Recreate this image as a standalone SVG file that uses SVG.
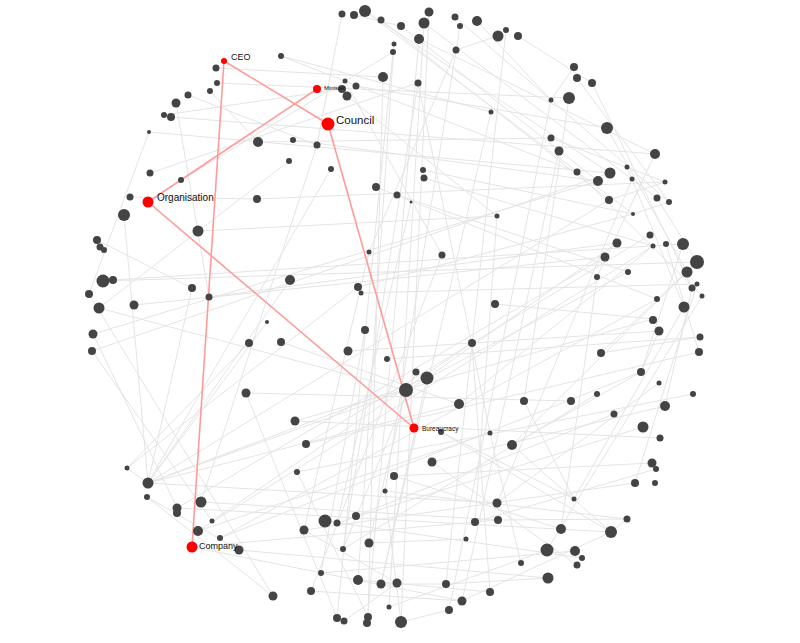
<svg xmlns="http://www.w3.org/2000/svg" width="800" height="643" viewBox="0 0 800 643">
<style>
.e line{stroke:#e4e4e4;stroke-width:1;fill:none}
.r line{stroke:#ff9a9a;stroke-width:1.6;fill:none}
.n circle{fill:#444}
.h circle{fill:#ff0000}
text{font-family:"Liberation Sans",Arial,sans-serif;fill:#111}
</style>
<rect width="800" height="643" fill="#fff"/>
<g id="connectors">
<g class="e">
<line x1="281" y1="56" x2="491" y2="112"/><line x1="281" y1="56" x2="577" y2="172"/><line x1="216" y1="68" x2="383" y2="77"/><line x1="217" y1="83" x2="569" y2="98"/><line x1="210" y1="91" x2="258" y2="142"/><line x1="188" y1="95" x2="317" y2="145"/><line x1="176" y1="103" x2="209" y2="297"/><line x1="164" y1="115" x2="342" y2="89"/><line x1="171" y1="117" x2="655" y2="154"/><line x1="149" y1="132" x2="610" y2="173"/><line x1="149" y1="132" x2="89" y2="294"/><line x1="258" y1="142" x2="551" y2="138"/><line x1="293" y1="140" x2="598" y2="181"/><line x1="289" y1="161" x2="99" y2="308"/><line x1="150" y1="173" x2="418" y2="83"/><line x1="181" y1="180" x2="393" y2="52"/><line x1="130" y1="197" x2="257" y2="199"/><line x1="257" y1="199" x2="665" y2="182"/><line x1="124" y1="215" x2="148" y2="483"/><line x1="198" y1="231" x2="497" y2="216"/><line x1="97" y1="240" x2="192" y2="288"/><line x1="103" y1="281" x2="697" y2="262"/><line x1="113" y1="280" x2="683" y2="244"/><line x1="290" y1="280" x2="148" y2="483"/><line x1="192" y1="288" x2="148" y2="483"/><line x1="89" y1="294" x2="273" y2="596"/><line x1="209" y1="297" x2="617" y2="243"/><line x1="99" y1="308" x2="406" y2="390"/><line x1="134" y1="305" x2="605" y2="257"/><line x1="342" y1="14" x2="317" y2="145"/><line x1="354" y1="15" x2="401" y2="26"/><line x1="365" y1="11" x2="633" y2="214"/><line x1="365" y1="11" x2="610" y2="173"/><line x1="381" y1="20" x2="609" y2="200"/><line x1="401" y1="26" x2="598" y2="181"/><line x1="424" y1="23" x2="657" y2="198"/><line x1="424" y1="23" x2="389" y2="607"/><line x1="429" y1="12" x2="401" y2="622"/><line x1="419" y1="39" x2="367" y2="623"/><line x1="455" y1="17" x2="669" y2="202"/><line x1="460" y1="26" x2="385" y2="491"/><line x1="477" y1="21" x2="551" y2="100"/><line x1="498" y1="36" x2="456" y2="50"/><line x1="456" y1="50" x2="369" y2="252"/><line x1="394" y1="44" x2="358" y2="580"/><line x1="393" y1="52" x2="337" y2="618"/><line x1="383" y1="77" x2="368" y2="617"/><line x1="418" y1="83" x2="343" y2="549"/><line x1="345" y1="81" x2="442" y2="255"/><line x1="356" y1="86" x2="607" y2="128"/><line x1="347" y1="96" x2="497" y2="216"/><line x1="491" y1="112" x2="381" y2="584"/><line x1="317" y1="145" x2="201" y2="502"/><line x1="331" y1="169" x2="148" y2="483"/><line x1="423" y1="170" x2="633" y2="214"/><line x1="424" y1="178" x2="653" y2="246"/><line x1="376" y1="187" x2="657" y2="299"/><line x1="397" y1="195" x2="628" y2="272"/><line x1="411" y1="202" x2="337" y2="523"/><line x1="497" y1="216" x2="475" y2="522"/><line x1="369" y1="252" x2="304" y2="530"/><line x1="442" y1="255" x2="311" y2="591"/><line x1="358" y1="287" x2="127" y2="468"/><line x1="361" y1="293" x2="697" y2="284"/><line x1="495" y1="304" x2="653" y2="319"/><line x1="506" y1="30" x2="446" y2="584"/><line x1="518" y1="36" x2="592" y2="83"/><line x1="574" y1="67" x2="551" y2="100"/><line x1="577" y1="78" x2="669" y2="202"/><line x1="592" y1="83" x2="692" y2="288"/><line x1="551" y1="100" x2="449" y2="610"/><line x1="569" y1="98" x2="524" y2="401"/><line x1="607" y1="128" x2="687" y2="272"/><line x1="551" y1="138" x2="665" y2="182"/><line x1="559" y1="151" x2="462" y2="601"/><line x1="655" y1="154" x2="597" y2="277"/><line x1="577" y1="172" x2="702" y2="296"/><line x1="627" y1="167" x2="684" y2="307"/><line x1="632" y1="179" x2="497" y2="503"/><line x1="610" y1="173" x2="92" y2="351"/><line x1="598" y1="181" x2="93" y2="334"/><line x1="665" y1="182" x2="609" y2="200"/><line x1="609" y1="200" x2="148" y2="483"/><line x1="657" y1="198" x2="697" y2="262"/><line x1="669" y1="202" x2="633" y2="214"/><line x1="633" y1="214" x2="358" y2="287"/><line x1="650" y1="235" x2="306" y2="444"/><line x1="653" y1="246" x2="198" y2="531"/><line x1="666" y1="244" x2="699" y2="352"/><line x1="683" y1="244" x2="641" y2="372"/><line x1="617" y1="243" x2="427" y2="378"/><line x1="605" y1="257" x2="177" y2="508"/><line x1="697" y1="262" x2="601" y2="353"/><line x1="687" y1="272" x2="512" y2="445"/><line x1="597" y1="277" x2="561" y2="529"/><line x1="628" y1="272" x2="406" y2="390"/><line x1="692" y1="288" x2="665" y2="406"/><line x1="697" y1="284" x2="635" y2="483"/><line x1="702" y1="296" x2="547" y2="550"/><line x1="657" y1="299" x2="220" y2="538"/><line x1="684" y1="307" x2="574" y2="499"/><line x1="653" y1="319" x2="295" y2="421"/><line x1="93" y1="334" x2="177" y2="508"/><line x1="92" y1="351" x2="212" y2="521"/><line x1="246" y1="393" x2="571" y2="401"/><line x1="281" y1="342" x2="459" y2="404"/><line x1="249" y1="343" x2="127" y2="468"/><line x1="267" y1="322" x2="148" y2="483"/><line x1="127" y1="468" x2="148" y2="483"/><line x1="148" y1="483" x2="459" y2="404"/><line x1="148" y1="483" x2="406" y2="390"/><line x1="148" y1="483" x2="497" y2="503"/><line x1="148" y1="483" x2="427" y2="378"/><line x1="147" y1="497" x2="239" y2="550"/><line x1="177" y1="508" x2="611" y2="532"/><line x1="201" y1="502" x2="498" y2="520"/><line x1="212" y1="521" x2="472" y2="343"/><line x1="198" y1="531" x2="490" y2="433"/><line x1="220" y1="538" x2="641" y2="372"/><line x1="239" y1="550" x2="548" y2="578"/><line x1="273" y1="596" x2="147" y2="497"/><line x1="365" y1="330" x2="321" y2="573"/><line x1="348" y1="351" x2="659" y2="331"/><line x1="387" y1="359" x2="700" y2="337"/><line x1="472" y1="343" x2="490" y2="592"/><line x1="416" y1="372" x2="343" y2="549"/><line x1="427" y1="378" x2="381" y2="584"/><line x1="406" y1="390" x2="369" y2="543"/><line x1="459" y1="404" x2="653" y2="246"/><line x1="441" y1="432" x2="611" y2="532"/><line x1="490" y1="433" x2="521" y2="563"/><line x1="295" y1="421" x2="660" y2="438"/><line x1="306" y1="444" x2="699" y2="352"/><line x1="432" y1="462" x2="577" y2="565"/><line x1="297" y1="472" x2="693" y2="394"/><line x1="394" y1="476" x2="652" y2="463"/><line x1="385" y1="491" x2="627" y2="519"/><line x1="497" y1="503" x2="659" y2="383"/><line x1="325" y1="521" x2="582" y2="558"/><line x1="337" y1="523" x2="643" y2="427"/><line x1="356" y1="516" x2="614" y2="414"/><line x1="304" y1="530" x2="397" y2="583"/><line x1="369" y1="543" x2="466" y2="539"/><line x1="343" y1="549" x2="597" y2="394"/><line x1="475" y1="522" x2="656" y2="469"/><line x1="498" y1="520" x2="627" y2="519"/><line x1="321" y1="573" x2="575" y2="551"/><line x1="358" y1="580" x2="490" y2="592"/><line x1="381" y1="584" x2="446" y2="584"/><line x1="397" y1="583" x2="344" y2="621"/><line x1="311" y1="591" x2="462" y2="601"/><line x1="462" y1="601" x2="611" y2="532"/><line x1="449" y1="610" x2="401" y2="622"/><line x1="389" y1="607" x2="547" y2="550"/><line x1="337" y1="618" x2="246" y2="393"/><line x1="368" y1="617" x2="297" y2="472"/><line x1="401" y1="622" x2="385" y2="491"/><line x1="659" y1="331" x2="641" y2="372"/><line x1="700" y1="337" x2="601" y2="353"/><line x1="641" y1="372" x2="512" y2="445"/><line x1="665" y1="406" x2="432" y2="462"/><line x1="524" y1="401" x2="574" y2="499"/><line x1="512" y1="445" x2="611" y2="532"/><line x1="635" y1="483" x2="304" y2="530"/><line x1="574" y1="499" x2="441" y2="432"/><line x1="611" y1="532" x2="627" y2="519"/><line x1="561" y1="529" x2="394" y2="476"/><line x1="548" y1="578" x2="446" y2="584"/><line x1="192" y1="547" x2="462" y2="601"/><line x1="192" y1="547" x2="498" y2="520"/><line x1="418" y1="83" x2="490" y2="433"/><line x1="419" y1="39" x2="655" y2="154"/>
</g>
<g class="r">
<line x1="224" y1="61" x2="328" y2="124"/>
<line x1="224" y1="61" x2="192" y2="547"/>
<line x1="317" y1="89" x2="148" y2="202"/>
<line x1="148" y1="202" x2="414" y2="428"/>
<line x1="328" y1="124" x2="414" y2="428"/>
</g>
</g>
<g id="nodes" class="n">
<g id="n1"><circle cx="281" cy="56" r="3"/></g>
<g id="n2"><circle cx="216" cy="68" r="3.5"/></g>
<g id="n3"><circle cx="217" cy="83" r="3"/></g>
<g id="n4"><circle cx="210" cy="91" r="3"/></g>
<g id="n5"><circle cx="188" cy="95" r="3.5"/></g>
<g id="n6"><circle cx="176" cy="103" r="4.5"/></g>
<g id="n7"><circle cx="164" cy="115" r="3"/></g>
<g id="n8"><circle cx="171" cy="117" r="4"/></g>
<g id="n9"><circle cx="149" cy="132" r="2"/></g>
<g id="n10"><circle cx="258" cy="142" r="5"/></g>
<g id="n11"><circle cx="293" cy="140" r="3"/></g>
<g id="n12"><circle cx="289" cy="161" r="3"/></g>
<g id="n13"><circle cx="150" cy="173" r="3.5"/></g>
<g id="n14"><circle cx="181" cy="180" r="3"/></g>
<g id="n15"><circle cx="130" cy="197" r="3.5"/></g>
<g id="n16"><circle cx="257" cy="199" r="4"/></g>
<g id="n17"><circle cx="124" cy="215" r="6"/></g>
<g id="n18"><circle cx="198" cy="231" r="5.5"/></g>
<g id="n19"><circle cx="97" cy="240" r="4"/></g>
<g id="n20"><circle cx="100" cy="247" r="3.5"/></g>
<g id="n21"><circle cx="104" cy="250" r="3"/></g>
<g id="n22"><circle cx="103" cy="281" r="6.5"/></g>
<g id="n23"><circle cx="113" cy="280" r="4"/></g>
<g id="n24"><circle cx="290" cy="280" r="5"/></g>
<g id="n25"><circle cx="192" cy="288" r="4"/></g>
<g id="n26"><circle cx="89" cy="294" r="4"/></g>
<g id="n27"><circle cx="209" cy="297" r="3.5"/></g>
<g id="n28"><circle cx="99" cy="308" r="5.5"/></g>
<g id="n29"><circle cx="134" cy="305" r="4.5"/></g>
<g id="n30"><circle cx="342" cy="14" r="3.5"/></g>
<g id="n31"><circle cx="354" cy="15" r="4"/></g>
<g id="n32"><circle cx="365" cy="11" r="6"/></g>
<g id="n33"><circle cx="381" cy="20" r="3.5"/></g>
<g id="n34"><circle cx="401" cy="26" r="4"/></g>
<g id="n35"><circle cx="424" cy="23" r="5.5"/></g>
<g id="n36"><circle cx="429" cy="12" r="4.5"/></g>
<g id="n37"><circle cx="455" cy="17" r="3.5"/></g>
<g id="n38"><circle cx="460" cy="26" r="3"/></g>
<g id="n39"><circle cx="477" cy="21" r="5"/></g>
<g id="n40"><circle cx="498" cy="36" r="5.5"/></g>
<g id="n41"><circle cx="394" cy="44" r="2.5"/></g>
<g id="n42"><circle cx="393" cy="52" r="3"/></g>
<g id="n43"><circle cx="419" cy="39" r="5"/></g>
<g id="n44"><circle cx="456" cy="50" r="3.5"/></g>
<g id="n45"><circle cx="383" cy="77" r="5"/></g>
<g id="n46"><circle cx="418" cy="83" r="3.5"/></g>
<g id="n47"><circle cx="345" cy="81" r="2.5"/></g>
<g id="n48"><circle cx="356" cy="86" r="3.5"/></g>
<g id="n49"><circle cx="342" cy="89" r="4"/></g>
<g id="n50"><circle cx="347" cy="96" r="4.5"/></g>
<g id="n51"><circle cx="491" cy="112" r="2.5"/></g>
<g id="n52"><circle cx="317" cy="145" r="3.5"/></g>
<g id="n53"><circle cx="331" cy="169" r="3"/></g>
<g id="n54"><circle cx="423" cy="170" r="3"/></g>
<g id="n55"><circle cx="424" cy="178" r="3.5"/></g>
<g id="n56"><circle cx="376" cy="187" r="4"/></g>
<g id="n57"><circle cx="397" cy="195" r="3.5"/></g>
<g id="n58"><circle cx="411" cy="202" r="1.5"/></g>
<g id="n59"><circle cx="497" cy="216" r="2.5"/></g>
<g id="n60"><circle cx="369" cy="252" r="2.5"/></g>
<g id="n61"><circle cx="442" cy="255" r="3.5"/></g>
<g id="n62"><circle cx="358" cy="287" r="4"/></g>
<g id="n63"><circle cx="361" cy="293" r="2.5"/></g>
<g id="n64"><circle cx="495" cy="304" r="4"/></g>
<g id="n65"><circle cx="506" cy="30" r="3"/></g>
<g id="n66"><circle cx="518" cy="36" r="4"/></g>
<g id="n67"><circle cx="574" cy="67" r="4"/></g>
<g id="n68"><circle cx="577" cy="78" r="4"/></g>
<g id="n69"><circle cx="592" cy="83" r="4"/></g>
<g id="n70"><circle cx="551" cy="100" r="2.5"/></g>
<g id="n71"><circle cx="569" cy="98" r="6"/></g>
<g id="n72"><circle cx="607" cy="128" r="6"/></g>
<g id="n73"><circle cx="551" cy="138" r="3.5"/></g>
<g id="n74"><circle cx="559" cy="151" r="4.5"/></g>
<g id="n75"><circle cx="655" cy="154" r="5"/></g>
<g id="n76"><circle cx="577" cy="172" r="3.5"/></g>
<g id="n77"><circle cx="627" cy="167" r="2.5"/></g>
<g id="n78"><circle cx="632" cy="179" r="2.5"/></g>
<g id="n79"><circle cx="610" cy="173" r="5.5"/></g>
<g id="n80"><circle cx="598" cy="181" r="5"/></g>
<g id="n81"><circle cx="665" cy="182" r="2.5"/></g>
<g id="n82"><circle cx="609" cy="200" r="4"/></g>
<g id="n83"><circle cx="657" cy="198" r="3.5"/></g>
<g id="n84"><circle cx="669" cy="202" r="3"/></g>
<g id="n85"><circle cx="633" cy="214" r="2"/></g>
<g id="n86"><circle cx="650" cy="235" r="3.5"/></g>
<g id="n87"><circle cx="653" cy="246" r="2.5"/></g>
<g id="n88"><circle cx="666" cy="244" r="3"/></g>
<g id="n89"><circle cx="683" cy="244" r="6"/></g>
<g id="n90"><circle cx="617" cy="243" r="4.5"/></g>
<g id="n91"><circle cx="605" cy="257" r="4.5"/></g>
<g id="n92"><circle cx="697" cy="262" r="7"/></g>
<g id="n93"><circle cx="687" cy="272" r="5.5"/></g>
<g id="n94"><circle cx="597" cy="277" r="3"/></g>
<g id="n95"><circle cx="628" cy="272" r="3"/></g>
<g id="n96"><circle cx="692" cy="288" r="3.5"/></g>
<g id="n97"><circle cx="697" cy="284" r="2.5"/></g>
<g id="n98"><circle cx="702" cy="296" r="2.5"/></g>
<g id="n99"><circle cx="657" cy="299" r="3"/></g>
<g id="n100"><circle cx="684" cy="307" r="5.5"/></g>
<g id="n101"><circle cx="653" cy="320" r="4"/></g>
<g id="n102"><circle cx="93" cy="334" r="4.5"/></g>
<g id="n103"><circle cx="92" cy="351" r="4"/></g>
<g id="n104"><circle cx="246" cy="393" r="4.5"/></g>
<g id="n105"><circle cx="281" cy="342" r="4"/></g>
<g id="n106"><circle cx="249" cy="343" r="4"/></g>
<g id="n107"><circle cx="267" cy="322" r="2"/></g>
<g id="n108"><circle cx="127" cy="468" r="2.5"/></g>
<g id="n109"><circle cx="148" cy="483" r="5.5"/></g>
<g id="n110"><circle cx="147" cy="497" r="3"/></g>
<g id="n111"><circle cx="177" cy="508" r="4.5"/></g>
<g id="n112"><circle cx="177" cy="513" r="4"/></g>
<g id="n113"><circle cx="201" cy="502" r="5.5"/></g>
<g id="n114"><circle cx="212" cy="521" r="2.5"/></g>
<g id="n115"><circle cx="198" cy="531" r="5"/></g>
<g id="n116"><circle cx="220" cy="538" r="3"/></g>
<g id="n117"><circle cx="239" cy="550" r="4.5"/></g>
<g id="n118"><circle cx="273" cy="596" r="4.5"/></g>
<g id="n119"><circle cx="365" cy="330" r="4"/></g>
<g id="n120"><circle cx="348" cy="351" r="4.5"/></g>
<g id="n121"><circle cx="387" cy="359" r="3"/></g>
<g id="n122"><circle cx="472" cy="343" r="4"/></g>
<g id="n123"><circle cx="416" cy="372" r="3.5"/></g>
<g id="n124"><circle cx="427" cy="378" r="6.5"/></g>
<g id="n125"><circle cx="406" cy="390" r="7"/></g>
<g id="n126"><circle cx="459" cy="404" r="5"/></g>
<g id="n127"><circle cx="441" cy="432" r="3"/></g>
<g id="n128"><circle cx="490" cy="433" r="2.5"/></g>
<g id="n129"><circle cx="295" cy="421" r="4.5"/></g>
<g id="n130"><circle cx="306" cy="444" r="4"/></g>
<g id="n131"><circle cx="432" cy="462" r="4.5"/></g>
<g id="n132"><circle cx="297" cy="472" r="3"/></g>
<g id="n133"><circle cx="394" cy="476" r="4"/></g>
<g id="n134"><circle cx="385" cy="491" r="2.5"/></g>
<g id="n135"><circle cx="497" cy="503" r="4.5"/></g>
<g id="n136"><circle cx="325" cy="521" r="6.5"/></g>
<g id="n137"><circle cx="337" cy="523" r="3.5"/></g>
<g id="n138"><circle cx="356" cy="516" r="4"/></g>
<g id="n139"><circle cx="304" cy="530" r="4.5"/></g>
<g id="n140"><circle cx="369" cy="543" r="4.5"/></g>
<g id="n141"><circle cx="343" cy="549" r="3"/></g>
<g id="n142"><circle cx="475" cy="522" r="4"/></g>
<g id="n143"><circle cx="498" cy="520" r="4"/></g>
<g id="n144"><circle cx="466" cy="539" r="2.5"/></g>
<g id="n145"><circle cx="321" cy="573" r="3"/></g>
<g id="n146"><circle cx="358" cy="580" r="5"/></g>
<g id="n147"><circle cx="381" cy="584" r="4.5"/></g>
<g id="n148"><circle cx="397" cy="583" r="4.5"/></g>
<g id="n149"><circle cx="446" cy="584" r="4"/></g>
<g id="n150"><circle cx="311" cy="591" r="4"/></g>
<g id="n151"><circle cx="462" cy="601" r="4.5"/></g>
<g id="n152"><circle cx="449" cy="610" r="4"/></g>
<g id="n153"><circle cx="490" cy="592" r="4"/></g>
<g id="n154"><circle cx="389" cy="607" r="2.5"/></g>
<g id="n155"><circle cx="337" cy="618" r="4"/></g>
<g id="n156"><circle cx="344" cy="621" r="3.5"/></g>
<g id="n157"><circle cx="368" cy="617" r="4"/></g>
<g id="n158"><circle cx="367" cy="623" r="4"/></g>
<g id="n159"><circle cx="401" cy="622" r="6"/></g>
<g id="n160"><circle cx="659" cy="331" r="4.5"/></g>
<g id="n161"><circle cx="700" cy="337" r="3.5"/></g>
<g id="n162"><circle cx="699" cy="352" r="4"/></g>
<g id="n163"><circle cx="601" cy="353" r="4"/></g>
<g id="n164"><circle cx="641" cy="372" r="4"/></g>
<g id="n165"><circle cx="659" cy="383" r="2.5"/></g>
<g id="n166"><circle cx="693" cy="394" r="3"/></g>
<g id="n167"><circle cx="665" cy="406" r="5"/></g>
<g id="n168"><circle cx="524" cy="401" r="4"/></g>
<g id="n169"><circle cx="571" cy="401" r="4"/></g>
<g id="n170"><circle cx="597" cy="394" r="3"/></g>
<g id="n171"><circle cx="614" cy="414" r="3.5"/></g>
<g id="n172"><circle cx="643" cy="427" r="5.5"/></g>
<g id="n173"><circle cx="660" cy="438" r="3.5"/></g>
<g id="n174"><circle cx="512" cy="445" r="5"/></g>
<g id="n175"><circle cx="652" cy="463" r="4.5"/></g>
<g id="n176"><circle cx="656" cy="469" r="3"/></g>
<g id="n177"><circle cx="635" cy="483" r="4"/></g>
<g id="n178"><circle cx="655" cy="483" r="3"/></g>
<g id="n179"><circle cx="574" cy="499" r="2.5"/></g>
<g id="n180"><circle cx="627" cy="519" r="3.5"/></g>
<g id="n181"><circle cx="611" cy="532" r="6"/></g>
<g id="n182"><circle cx="561" cy="529" r="5"/></g>
<g id="n183"><circle cx="547" cy="550" r="6.5"/></g>
<g id="n184"><circle cx="575" cy="551" r="5"/></g>
<g id="n185"><circle cx="582" cy="558" r="3"/></g>
<g id="n186"><circle cx="577" cy="565" r="3.5"/></g>
<g id="n187"><circle cx="521" cy="563" r="3"/></g>
<g id="n188"><circle cx="548" cy="578" r="5.5"/></g>
</g>
<g id="n-ceo" class="h"><circle cx="224" cy="61" r="3"/><text x="231" y="60" font-size="9">CEO</text></g>
<g id="n-minister" class="h"><circle cx="317" cy="89" r="4"/><text x="324" y="90" font-size="6">Minister</text></g>
<g id="n-council" class="h"><circle cx="328" cy="124" r="6.5"/><text x="336" y="124" font-size="11.5">Council</text></g>
<g id="n-organisation" class="h"><circle cx="148" cy="202" r="5.5"/><text x="157" y="201" font-size="10">Organisation</text></g>
<g id="n-bureaucracy" class="h"><circle cx="414" cy="428" r="4.5"/><text x="422" y="431" font-size="6.5">Bureaucracy</text></g>
<g id="n-company" class="h"><circle cx="192" cy="547" r="5.5"/><text x="199" y="549" font-size="9">Company</text></g>
</svg>
